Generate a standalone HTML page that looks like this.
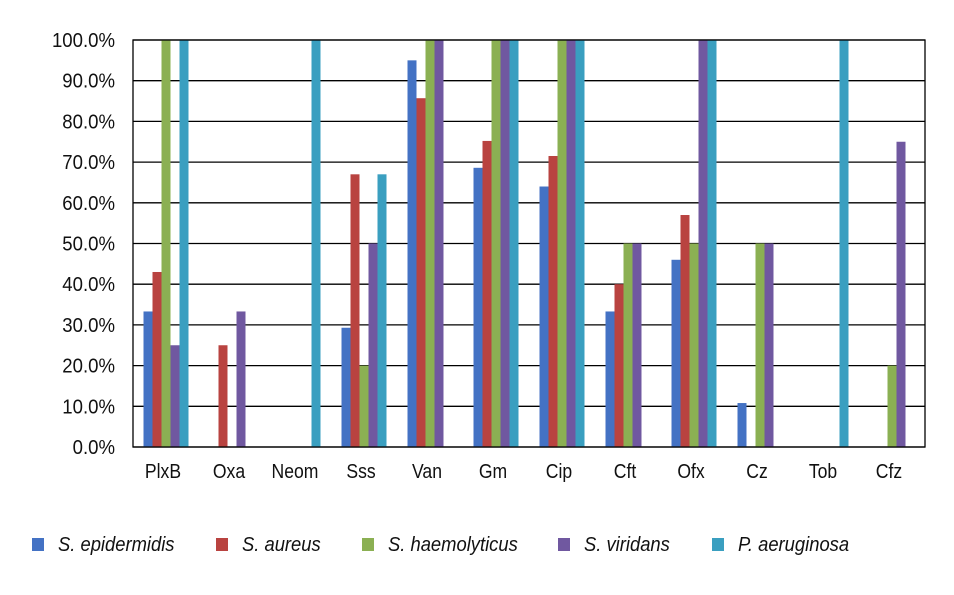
<!DOCTYPE html>
<html><head><meta charset="utf-8"><style>
html,body{margin:0;padding:0;background:#fff;}
svg{display:block;font-family:"Liberation Sans",sans-serif;}
</style></head><body>
<svg id="chart" width="954" height="595" viewBox="0 0 954 595"></svg>
<script>
const categories=["PlxB","Oxa","Neom","Sss","Van","Gm","Cip","Cft","Ofx","Cz","Tob","Cfz"];
const seriesNames=["S. epidermidis","S. aureus","S. haemolyticus","S. viridans","P. aeruginosa"];
const sEpidermidis=[33.3,0,0,29.3,95,68.6,64,33.3,46,10.8,0,0];
const sAureus=[43,25,0,67,85.7,75.2,71.5,40,57,0,0,0];
const sHaemolyticus=[100,0,0,20,100,100,100,50,50,50,0,20];
const sViridans=[25,33.3,0,50,100,100,100,50,100,50,0,75];
const pAeruginosa=[100,0,100,67,0,100,100,0,100,0,100,0];
const yTicks=[0,10,20,30,40,50,60,70,80,90,100];
const series=[sEpidermidis,sAureus,sHaemolyticus,sViridans,pAeruginosa];
const colors=["#4472c4","#b94340","#8bb053","#7058a0","#3a9fc0"];
const NS="http://www.w3.org/2000/svg";
const svg=document.getElementById('chart');
const L=133,R=925,T=40,B=447;
const band=(R-L)/categories.length;
const bw=9;
function y(v){return B-(v/100)*(B-T);}
function x(ci,si){return L+ci*band+(band-bw*series.length)/2+si*bw;}
function mk(t,a){const e=document.createElementNS(NS,t);for(const k in a)e.setAttribute(k,a[k]);svg.appendChild(e);return e;}
function txt(s,px,py,anchor,italic,sx){
  const e=mk('text',{transform:'translate('+px+','+py+') scale('+sx+',1)','text-anchor':anchor,'font-size':20,fill:'#111'});
  if(italic)e.setAttribute('font-style','italic');
  e.textContent=s;return e;
}
yTicks.forEach(t=>{
  const g=mk('line',{x1:L,x2:R,y1:y(t),y2:y(t),stroke:'#000','stroke-width':1.3});
  
  
  const tx=txt(t.toFixed(1)+'%',115,y(t)+7,'end',false,0.93);
  
  
});
series.forEach((s,si)=>{
  s.forEach((v,ci)=>{
    if(v<=0)return;
    const r=mk('rect',{x:x(ci,si),y:y(v),width:bw,height:B-y(v),fill:colors[si]});
    
    
  });
});
const fr=mk('rect',{x:L,y:T,width:R-L,height:B-T,fill:'none',stroke:'#000','stroke-width':1.3});


categories.forEach((c,ci)=>{
  const tx=txt(c,L+ci*band+band/2-3,478,'middle',false,0.88);
  
  
});
const legX=[32,216,362,558,712];
seriesNames.forEach((n,i)=>{
  const r=mk('rect',{x:legX[i],y:538,width:12,height:13,fill:colors[i]});
  
  
  const tx=txt(n,legX[i]+26,551,'start',true,0.92);
  
  
});
</script>
</body></html>
